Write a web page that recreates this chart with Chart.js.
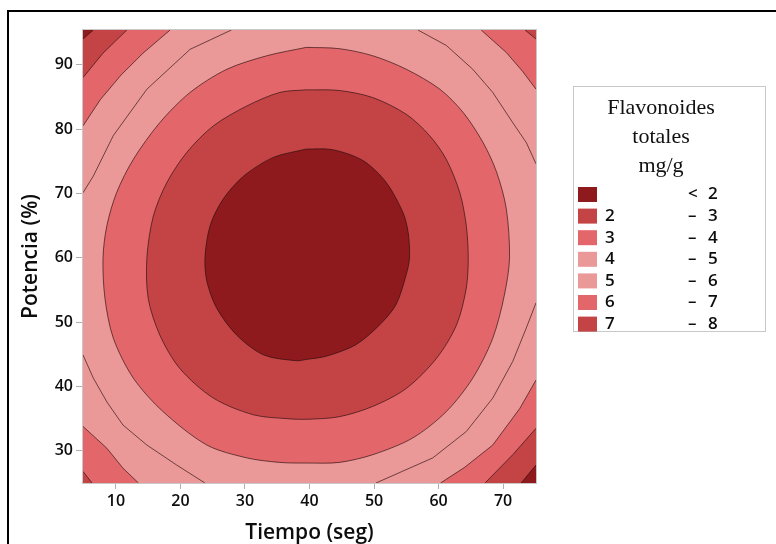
<!DOCTYPE html>
<html>
<head>
<meta charset="utf-8">
<script src="https://cdn.jsdelivr.net/npm/chart.js@4.4.1/dist/chart.umd.min.js"></script>
<style>
  html, body { margin: 0; padding: 0; background: #ffffff; }
  #wrap { width: 776px; height: 544px; position: relative; }
  canvas { display: block; }
</style>
</head>
<body>
<div id="wrap"><canvas id="contour" width="776" height="544"></canvas></div>
<script>
// Axis ranges and ticks
const tiempoRange = [4.9, 75.1];
const potenciaRange = [25, 95.4];
const tiempoTicks = [10, 20, 30, 40, 50, 60, 70];
const potenciaTicks = [30, 40, 50, 60, 70, 80, 90];

// Contour lines of total flavonoids (mg/g), as [tiempo, potencia] pairs.
// Closed rings around the minimum
const ring2 = [[39.5,76.9],[43.6,76.8],[48.3,75.1],[51.9,71.7],[54.5,67.0],[55.3,63.9],[55.5,60.0],[55.0,57.4],[53.4,52.7],[50.9,49.6],[47.2,46.5],[42.6,44.7],[39.5,44.2],[38.0,44.0],[32.9,44.9],[28.7,48.0],[25.6,52.2],[24.1,56.3],[23.8,60.0],[24.6,65.0],[26.6,69.1],[29.8,72.7],[34.4,75.6],[39.5,76.9]];
const ring3 = [[39.5,86.1],[44.6,86.0],[49.8,84.9],[55.0,82.3],[58.6,79.0],[61.2,75.3],[63.3,70.1],[64.3,65.0],[64.6,60.0],[64.3,55.3],[62.8,49.6],[59.7,44.4],[55.0,39.7],[49.8,36.9],[44.6,35.3],[39.5,34.9],[36.5,35.0],[31.3,35.6],[25.1,38.2],[19.9,42.8],[16.8,48.0],[15.0,53.7],[14.8,60.0],[15.8,66.5],[17.9,71.7],[21.0,76.4],[25.1,80.5],[30.3,83.6],[35.4,85.7],[39.5,86.1]];
const ring4 = [[39.5,92.7],[44.6,92.5],[49.8,91.4],[55.0,89.3],[60.2,86.2],[63.8,82.6],[66.9,77.9],[69.0,73.3],[70.5,67.6],[71.0,60.0],[70.2,54.2],[68.4,47.5],[65.3,41.3],[61.2,36.1],[56.0,32.0],[49.8,29.4],[44.6,28.2],[39.5,28.1],[35.4,28.2],[30.3,28.9],[24.1,30.9],[17.3,36.1],[12.7,41.3],[9.6,47.5],[8.3,53.7],[8.0,60.0],[8.6,65.0],[10.1,70.1],[12.7,75.3],[16.8,81.0],[21.5,85.7],[27.2,89.3],[33.4,91.4],[39.5,92.7]];

// Open contour lines that meet the plot edges (top-left, top-right, bottom-right, bottom-left)
const line5TL = [[27.9,95.4],[21.5,92.4],[14.8,86.2],[9.6,79.0],[6.5,72.7],[4.9,70.1]];
const line5TR = [[56.8,95.4],[61.2,93.0],[65.3,89.3],[68.4,85.7],[71.5,81.0],[73.6,77.9],[75.1,74.6]];
const line5BR = [[75.1,53.0],[73.6,49.1],[71.5,43.9],[68.4,38.2],[64.3,33.0],[59.1,28.9],[50.3,25]];
const line5BL = [[4.9,44.9],[6.5,41.3],[8.6,37.6],[11.1,34.0],[14.8,30.9],[19.4,27.8],[23.8,25]];

const line6TL = [[18.4,95.4],[14.2,91.8],[10.8,88.4],[7.6,84.6],[4.9,80.5]];
const line6TR = [[66.6,95.4],[70.5,91.9],[73.0,89.0],[75.1,86.2]];
const line6BR = [[75.1,41.0],[72.6,36.6],[68.4,30.9],[64.0,27.4],[60.3,25]];
const line6BL = [[4.9,33.8],[8.6,30.4],[11.1,27.3],[13.5,25]];

const line7TL = [[11.7,95.4],[8.0,91.8],[4.9,88.0]];
const line7TR = [[73.4,95.4],[75.1,94.0]];
const line7BR = [[75.1,33.5],[71.5,29.4],[67.2,25]];
const line7BL = [[4.9,26.8],[6.3,25]];

const line8TL = [[6.5,95.4],[4.9,94.0]];
const line8BR = [[75.1,27.8],[72.8,25]];

// Legend rows
const legendLow = ['', '2', '3', '4', '5', '6', '7'];
const legendSep = ['<', '–', '–', '–', '–', '–', '–'];
const legendHigh = ['2', '3', '4', '5', '6', '7', '8'];
const legendTitle = ['Flavonoides', 'totales', 'mg/g'];

// Band colours
const C_DARK = '#8f1a1e';
const C_MID = '#c44446';
const C_LIGHT = '#e3666a';
const C_PALE = '#eb9898';
const legendColors = [C_DARK, C_MID, C_LIGHT, C_PALE, C_PALE, C_LIGHT, C_MID];
const LINE_COLOR = 'rgba(35,12,12,0.8)';

const toPts = a => a.map(([x, y]) => ({ x, y }));
const [X0, X1] = tiempoRange;
const [Y0, Y1] = potenciaRange;

// Corner regions: the contour line closed through the plot corner it cuts off
const withCorner = (line, cx, cy) => line.concat([[cx, cy]]);

// Filled regions, listed from the bottom layer upwards (closed rings are smoothed)
const fills = [
  [withCorner(line6TL, X0, Y1), C_LIGHT, 0],
  [withCorner(line6TR, X1, Y1), C_LIGHT, 0],
  [withCorner(line6BR, X1, Y0), C_LIGHT, 0],
  [withCorner(line6BL, X0, Y0), C_LIGHT, 0],
  [withCorner(line7TL, X0, Y1), C_MID, 0],
  [withCorner(line7TR, X1, Y1), C_MID, 0],
  [withCorner(line7BR, X1, Y0), C_MID, 0],
  [withCorner(line7BL, X0, Y0), C_MID, 0],
  [withCorner(line8TL, X0, Y1), C_DARK, 0],
  [withCorner(line8BR, X1, Y0), C_DARK, 0],
  [ring4, C_LIGHT, 0.3],
  [ring3, C_MID, 0.3],
  [ring2, C_DARK, 0.3]
];
const strokes = [[ring2, 0.3], [ring3, 0.3], [ring4, 0.3],
  [line5TL, 0], [line5TR, 0], [line5BR, 0], [line5BL, 0],
  [line6TL, 0], [line6TR, 0], [line6BR, 0], [line6BL, 0],
  [line7TL, 0], [line7TR, 0], [line7BR, 0], [line7BL, 0],
  [line8TL, 0], [line8BR, 0]];

const layers = [];
fills.forEach(([poly, color, t]) => layers.push({
  data: toPts(poly), fill: 'shape', backgroundColor: color,
  borderWidth: 0, borderColor: 'transparent', pointRadius: 0, tension: t
}));
strokes.forEach(([line, t]) => layers.push({
  data: toPts(line), fill: false, borderColor: LINE_COLOR,
  borderWidth: 0.8, pointRadius: 0, tension: t
}));
// higher order is painted first
layers.forEach((ds, i) => { ds.order = layers.length - i; });

const tickFont = { family: "'Open Sans', sans-serif", size: 16, weight: '600' };
const titleFont = { family: "'Open Sans', sans-serif", size: 21, weight: '600', lineHeight: 1.0 };

const decor = {
  id: 'decor',
  beforeDatasetsDraw(chart) {
    const { ctx, chartArea: a } = chart;
    ctx.save();
    ctx.fillStyle = C_PALE;
    ctx.fillRect(a.left, a.top, a.right - a.left, a.bottom - a.top);
    ctx.restore();
  },
  afterDraw(chart) {
    const { ctx, chartArea: a } = chart;
    ctx.save();
    // plot frame
    ctx.strokeStyle = '#c8c8c8';
    ctx.lineWidth = 1;
    ctx.strokeRect(a.left - 0.5, a.top - 0.5, a.right - a.left + 1, a.bottom - a.top + 1);

    // outer figure rule lines
    ctx.strokeStyle = '#000000';
    ctx.lineWidth = 2;
    ctx.beginPath();
    ctx.moveTo(8, 544);
    ctx.lineTo(8, 11);
    ctx.lineTo(776, 11);
    ctx.stroke();

    // legend box
    const bx = 573, by = 86, bw = 192, bh = 245;
    ctx.strokeStyle = '#c8c8c8';
    ctx.lineWidth = 1;
    ctx.strokeRect(bx + 0.5, by + 0.5, bw, bh);

    ctx.fillStyle = '#111111';
    ctx.font = "22px 'Liberation Serif', serif";
    ctx.textAlign = 'center';
    ctx.textBaseline = 'alphabetic';
    legendTitle.forEach((t, i) => ctx.fillText(t, 661, 114 + i * 29));

    ctx.font = "600 17px 'Open Sans', sans-serif";
    ctx.textBaseline = 'middle';
    legendColors.forEach((c, i) => {
      const cy = 194.5 + i * 21.6;
      ctx.fillStyle = c;
      ctx.fillRect(578, cy - 7.5, 19, 15);
      ctx.fillStyle = '#0d0d0d';
      ctx.textAlign = 'left';
      if (legendLow[i]) ctx.fillText(legendLow[i], 605, cy);
      ctx.fillText(legendSep[i], 688, cy);
      ctx.fillText(legendHigh[i], 708, cy);
    });
    ctx.restore();
  }
};

new Chart(document.getElementById('contour'), {
  type: 'line',
  data: { datasets: layers },
  options: {
    responsive: false,
    animation: false,
    events: [],
    devicePixelRatio: 1,
    layout: { padding: { top: 30, right: 240, left: 0, bottom: 0 } },
    plugins: { legend: { display: false }, tooltip: { enabled: false } },
    scales: {
      x: {
        type: 'linear', min: X0, max: X1,
        afterBuildTicks: s => { s.ticks = tiempoTicks.map(v => ({ value: v })); },
        afterFit: s => { s.height = 61; },
        ticks: { font: tickFont, color: '#0d0d0d', padding: 3, maxRotation: 0 },
        grid: { drawOnChartArea: false, drawTicks: true, tickLength: 6, tickColor: '#b0b0b0' },
        border: { display: true, color: '#c8c8c8' },
        title: { display: true, text: 'Tiempo (seg)', font: titleFont, color: '#0d0d0d', padding: { top: 0, bottom: 0 } }
      },
      y: {
        type: 'linear', min: Y0, max: Y1,
        afterBuildTicks: s => { s.ticks = potenciaTicks.map(v => ({ value: v })); },
        afterFit: s => { s.width = 83; },
        ticks: { font: tickFont, color: '#0d0d0d', padding: 3 },
        grid: { drawOnChartArea: false, drawTicks: true, tickLength: 7, tickColor: '#b0b0b0' },
        border: { display: true, color: '#c8c8c8' },
        title: { display: true, text: 'Potencia (%)', font: titleFont, color: '#0d0d0d', padding: { top: 21, bottom: 0 } }
      }
    }
  },
  plugins: [decor]
});
</script>
</body>
</html>
